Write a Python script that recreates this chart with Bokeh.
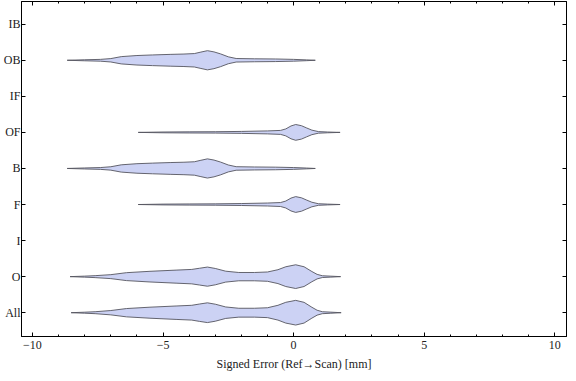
from bokeh.plotting import figure
from bokeh.models import FixedTicker, LinearAxis, Range1d
from bokeh.embed import file_html
from bokeh.resources import INLINE

# categories bottom to top
categories = ["All", "O", "I", "F", "B", "OF", "IF", "OB", "IB"]

# violin profiles: x positions (mm) and half-widths (category units)
ob_x = [-8.67, -8.0, -7.4, -7.0, -6.6, -6.0, -5.4, -4.7, -4.2, -3.8, -3.55, -3.3, -3.05, -2.8, -2.5, -2.2, -1.5, -0.7, 0.0, 0.5, 0.83]
ob_w = [0, 0.014, 0.025, 0.047, 0.101, 0.132, 0.148, 0.164, 0.173, 0.186, 0.227, 0.266, 0.233, 0.178, 0.096, 0.049, 0.041, 0.036, 0.025, 0.011, 0]

of_x = [-5.95, -5.0, -4.0, -3.0, -2.0, -1.0, -0.5, -0.3, -0.1, 0.08, 0.3, 0.5, 0.7, 0.95, 1.3, 1.78]
of_w = [0, 0.011, 0.016, 0.019, 0.027, 0.041, 0.055, 0.096, 0.178, 0.219, 0.186, 0.123, 0.063, 0.022, 0.011, 0]

o_x = [-8.56, -8.0, -7.6, -7.0, -6.4, -5.5, -4.5, -3.9, -3.6, -3.3, -3.0, -2.6, -2.1, -1.5, -1.0, -0.6, -0.3, 0.08, 0.4, 0.7, 0.9, 1.1, 1.4, 1.8]
o_w = [0, 0.014, 0.027, 0.055, 0.110, 0.148, 0.181, 0.200, 0.233, 0.266, 0.227, 0.151, 0.115, 0.115, 0.129, 0.192, 0.274, 0.329, 0.274, 0.142, 0.063, 0.025, 0.014, 0]

all_x = [-8.52, -8.0, -7.6, -7.0, -6.4, -5.5, -4.5, -3.9, -3.6, -3.3, -3.0, -2.6, -2.1, -1.5, -1.0, -0.6, -0.3, 0.08, 0.4, 0.7, 0.9, 1.1, 1.4, 1.82]
all_w = [0, 0.014, 0.027, 0.060, 0.115, 0.153, 0.186, 0.205, 0.241, 0.274, 0.236, 0.159, 0.123, 0.123, 0.137, 0.205, 0.288, 0.342, 0.288, 0.151, 0.068, 0.027, 0.016, 0]

violins = {
    "All": (all_x, all_w),
    "O": (o_x, o_w),
    "F": (of_x, of_w),
    "B": (ob_x, ob_w),
    "OF": (of_x, of_w),
    "OB": (ob_x, ob_w),
}

x_ticks = [-10, -5, 0, 5, 10]
x_minor = list(range(-10, 11))

FONT = "Liberation Serif"

p = figure(width=568, height=373, output_backend="svg", toolbar_location=None,
           x_range=Range1d(-10.42, 10.45), y_range=Range1d(0.34, 9.63),
           min_border_left=19, min_border_right=2, min_border_top=1, min_border_bottom=36)
p.grid.visible = False
p.outline_line_color = "black"
p.outline_line_width = 1
p.background_fill_color = "white"
p.border_fill_color = "white"

xs, ys = [], []
for name, (vx, vw) in violins.items():
    c = categories.index(name) + 1
    xs.append(list(vx) + list(reversed(vx)))
    ys.append([c + w for w in vw] + [c - w for w in reversed(vw)])
p.patches(xs, ys, fill_color="#CCD2F4", line_color="#55555F", line_width=1, line_alpha=0.9)

def style_axis(ax, show_labels):
    ax.axis_line_color = "black"
    ax.major_tick_in = 4
    ax.major_tick_out = 0
    ax.minor_tick_in = 2
    ax.minor_tick_out = 0
    ax.major_tick_line_color = "black"
    ax.minor_tick_line_color = "black"
    if show_labels:
        ax.major_label_text_font = FONT
        ax.major_label_text_font_size = "12px"
        ax.major_label_text_color = "#222222"
    else:
        ax.major_label_text_color = None
        ax.major_label_standoff = 0

xa = p.xaxis[0]
xa.ticker = FixedTicker(ticks=x_ticks, minor_ticks=x_minor)
style_axis(xa, True)
xa.major_label_standoff = 4
xa.axis_label = "Signed Error (Ref\u2192Scan) [mm]"
xa.axis_label_text_font = FONT
xa.axis_label_text_font_size = "12px"
xa.axis_label_text_font_style = "normal"
xa.axis_label_text_color = "#222222"
xa.axis_label_standoff = 5

ya = p.yaxis[0]
ya.ticker = FixedTicker(ticks=list(range(1, len(categories) + 1)))
ya.major_label_overrides = {i + 1: c for i, c in enumerate(categories)}
style_axis(ya, True)
ya.minor_tick_in = 0
ya.major_label_standoff = 1

top = LinearAxis(ticker=FixedTicker(ticks=x_ticks, minor_ticks=x_minor))
style_axis(top, False)
p.add_layout(top, "above")

right = LinearAxis(ticker=FixedTicker(ticks=list(range(1, len(categories) + 1))))
style_axis(right, False)
right.minor_tick_in = 0
p.add_layout(right, "right")

open("out.html", "w").write(file_html(p, INLINE))
